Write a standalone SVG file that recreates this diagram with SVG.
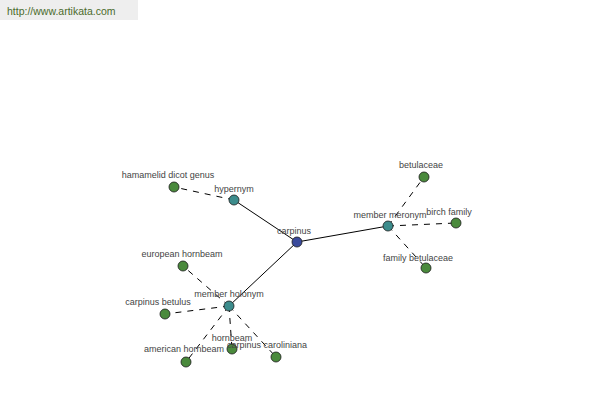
<svg xmlns="http://www.w3.org/2000/svg" width="600" height="400" viewBox="0 0 600 400">
<style>
.e{stroke:#000;stroke-width:1;fill:none}
.d{stroke-dasharray:6,6}
.n{stroke:#1a1a1a;stroke-width:0.8}
.g{fill:#4a8a3c}
.t{fill:#3c8c8c}
.b{fill:#3a4a9c}
text{font-family:"Liberation Sans",Arial,sans-serif;font-size:9px;fill:#444;text-anchor:middle}
</style>
<rect x="0" y="0" width="138" height="20" fill="#eeeeee"/>
<text x="7" y="15" style="font-size:10.5px;fill:#4b6b2b;text-anchor:start">http://www.artikata.com</text>
<g id="connectors">
<line class="e" x1="297" y1="242" x2="234" y2="200"/>
<line class="e" x1="297" y1="242" x2="388" y2="226"/>
<line class="e" x1="297" y1="242" x2="229" y2="306"/>
<line class="e d" x1="234" y1="200" x2="174" y2="187"/>
<line class="e d" x1="388" y1="226" x2="424" y2="177"/>
<line class="e d" x1="388" y1="226" x2="456" y2="223"/>
<line class="e d" x1="388" y1="226" x2="426" y2="268"/>
<line class="e d" x1="229" y1="306" x2="183" y2="266"/>
<line class="e d" x1="229" y1="306" x2="165" y2="314"/>
<line class="e d" x1="229" y1="306" x2="186" y2="362"/>
<line class="e d" x1="229" y1="306" x2="232" y2="349"/>
<line class="e d" x1="229" y1="306" x2="276" y2="357"/>
</g>
<g id="carpinus"><circle class="n b" cx="297" cy="242" r="5"/><text x="294" y="234">carpinus</text></g>
<g id="hypernym"><circle class="n t" cx="234" cy="200" r="5"/><text x="234" y="192">hypernym</text></g>
<g id="hamamelid"><circle class="n g" cx="174" cy="187" r="5"/><text x="168" y="178">hamamelid dicot genus</text></g>
<g id="member-meronym"><circle class="n t" cx="388" cy="226" r="5"/><text x="390" y="218">member meronym</text></g>
<g id="betulaceae"><circle class="n g" cx="424" cy="177" r="5"/><text x="421" y="168">betulaceae</text></g>
<g id="birch-family"><circle class="n g" cx="456" cy="223" r="5"/><text x="449" y="215">birch family</text></g>
<g id="family-betulaceae"><circle class="n g" cx="426" cy="268" r="5"/><text x="418" y="261">family betulaceae</text></g>
<g id="member-holonym"><circle class="n t" cx="229" cy="306" r="5"/><text x="229" y="297">member holonym</text></g>
<g id="european-hornbeam"><circle class="n g" cx="183" cy="266" r="5"/><text x="182" y="257">european hornbeam</text></g>
<g id="carpinus-betulus"><circle class="n g" cx="165" cy="314" r="5"/><text x="158" y="305">carpinus betulus</text></g>
<g id="american-hornbeam"><circle class="n g" cx="186" cy="362" r="5"/><text x="184" y="352">american hornbeam</text></g>
<g id="hornbeam"><circle class="n g" cx="232" cy="349" r="5"/><text x="232" y="341">hornbeam</text></g>
<g id="carpinus-caroliniana"><circle class="n g" cx="276" cy="357" r="5"/><text x="267" y="348">carpinus caroliniana</text></g>
</svg>
